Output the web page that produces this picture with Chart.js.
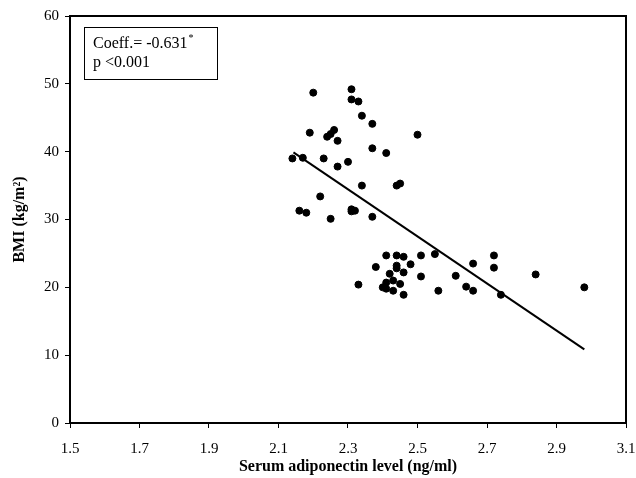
<!DOCTYPE html>
<html>
<head>
<meta charset="utf-8">
<script src="https://cdn.jsdelivr.net/npm/chart.js@4.4.1/dist/chart.umd.min.js"></script>
<style>
  body { margin: 0; background: #fff; }
  canvas { display: block; }
</style>
</head>
<body>
<canvas id="bmiChart" width="636" height="478"></canvas>
<script>
// adiponectin (ng/ml) vs BMI
const adiponectin = [
    2.20, 2.31, 2.31, 2.33, 2.34, 2.37, 2.19, 2.26, 2.25, 2.24,
    2.27, 2.50, 2.37, 2.41, 2.14, 2.17, 2.23, 2.30, 2.27, 2.34,
    2.44, 2.45, 2.22, 2.16, 2.18, 2.25, 2.31, 2.32, 2.31, 2.37,
    2.41, 2.44, 2.46, 2.51, 2.55, 2.38, 2.44, 2.44, 2.48, 2.42,
    2.46, 2.51, 2.61, 2.33, 2.41, 2.43, 2.45, 2.40, 2.41, 2.43,
    2.46, 2.56, 2.64, 2.66, 2.72, 2.72, 2.66, 2.74, 2.84, 2.98
];
const bmi = [
    48.7, 49.2, 47.7, 47.4, 45.3, 44.1, 42.8, 43.2, 42.6, 42.2,
    41.6, 42.5, 40.5, 39.8, 39.0, 39.1, 39.0, 38.5, 37.8, 35.0,
    35.0, 35.3, 33.4, 31.3, 31.0, 30.1, 31.5, 31.3, 31.2, 30.4,
    24.7, 24.7, 24.5, 24.7, 24.9, 23.0, 23.2, 22.8, 23.4, 22.0,
    22.2, 21.6, 21.7, 20.4, 20.7, 21.0, 20.5, 20.0, 19.8, 19.5,
    18.9, 19.5, 20.1, 23.5, 24.7, 22.9, 19.5, 18.9, 21.9, 20.0
];
const fitX = [2.143, 2.98];
const fitY = [39.9, 10.86];
const xTicks = [1.5, 1.7, 1.9, 2.1, 2.3, 2.5, 2.7, 2.9, 3.1];
const yTicks = [0, 10, 20, 30, 40, 50, 60];
const noteLines = ['Coeff.= -0.631', 'p <0.001'];

const serif = 'Liberation Serif, Times New Roman, serif';

// box around plot + the coefficient note
const framePlugin = {
    id: 'frame',
    afterDraw(chart) {
        const { ctx, chartArea: a } = chart;
        ctx.save();
        ctx.strokeStyle = '#000';
        ctx.lineWidth = 2;
        ctx.strokeRect(a.left, a.top, a.right - a.left, a.bottom - a.top);

        ctx.lineWidth = 1;
        ctx.strokeRect(84.5, 27.5, 133, 52);
        ctx.fillStyle = '#000';
        ctx.font = '16px ' + serif;
        ctx.textBaseline = 'alphabetic';
        ctx.fillText(noteLines[0], 93, 48);
        const w = ctx.measureText(noteLines[0]).width;
        ctx.font = '10px ' + serif;
        ctx.fillText('*', 93 + w + 1, 41);
        ctx.font = '16px ' + serif;
        ctx.fillText(noteLines[1], 93, 67);
        ctx.restore();
    }
};

new Chart(document.getElementById('bmiChart'), {
    type: 'scatter',
    data: {
        datasets: [{
            label: 'BMI',
            data: adiponectin.map((x, i) => ({ x: x, y: bmi[i] })),
            backgroundColor: '#000',
            borderColor: '#000',
            pointRadius: 3.5,
            pointHoverRadius: 3.5
        }, {
            label: 'fit',
            data: fitX.map((x, i) => ({ x: x, y: fitY[i] })),
            showLine: true,
            borderColor: '#000',
            borderWidth: 2,
            pointRadius: 0
        }]
    },
    options: {
        responsive: false,
        animation: false,
        layout: { padding: { top: 16, right: 10 } },
        plugins: {
            legend: { display: false },
            tooltip: { enabled: false }
        },
        scales: {
            x: {
                type: 'linear',
                min: 1.5,
                max: 3.1,
                afterBuildTicks: s => { s.ticks = xTicks.map(v => ({ value: v })); },
                afterFit: s => {
                    s.height = 55;
                    s.paddingLeft = 0;
                    s.paddingRight = 0;
                },
                ticks: {
                    color: '#000',
                    font: { family: serif, size: 15 },
                    padding: 12,
                    maxRotation: 0,
                    callback: v => v.toFixed(1)
                },
                grid: { display: true, drawOnChartArea: false, color: '#000', tickLength: 5, lineWidth: 1 },
                border: { display: true, color: '#000', width: 2 },
                title: {
                    display: true,
                    text: 'Serum adiponectin level (ng/ml)',
                    color: '#000',
                    font: { family: serif, size: 16, weight: 'bold' },
                    padding: { top: 0, bottom: 2 }
                }
            },
            y: {
                min: 0,
                max: 60,
                afterBuildTicks: s => { s.ticks = yTicks.map(v => ({ value: v })); },
                afterFit: s => {
                    s.width = 70;
                    s.paddingTop = 0;
                    s.paddingBottom = 0;
                },
                ticks: {
                    color: '#000',
                    font: { family: serif, size: 15 },
                    padding: 6
                },
                grid: { display: true, drawOnChartArea: false, color: '#000', tickLength: 5, lineWidth: 1 },
                border: { display: true, color: '#000', width: 2 },
                title: {
                    display: true,
                    text: 'BMI (kg/m²)',
                    color: '#000',
                    font: { family: serif, size: 16, weight: 'bold' },
                    padding: { top: 10, bottom: 0 }
                }
            }
        }
    },
    plugins: [framePlugin]
});
</script>
</body>
</html>
